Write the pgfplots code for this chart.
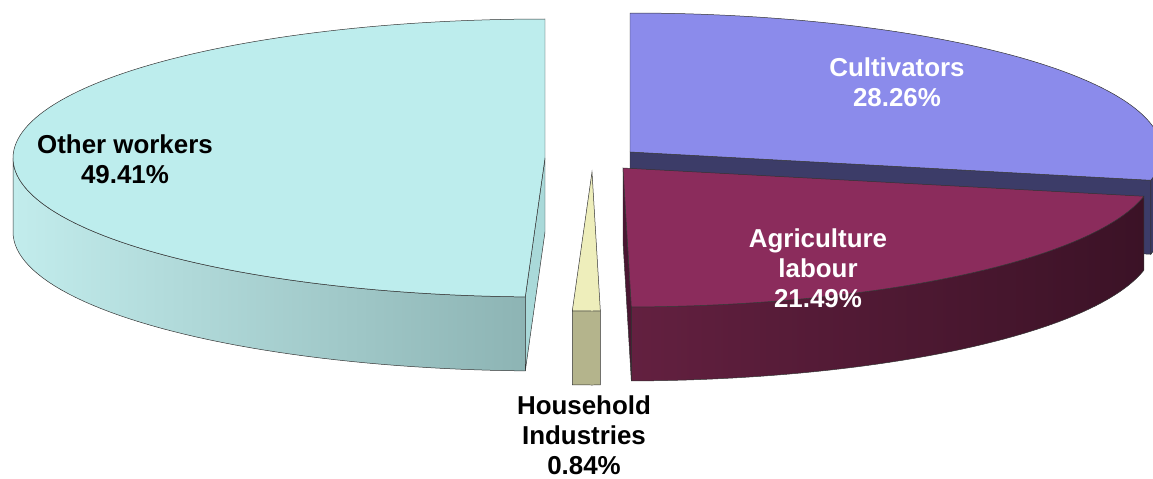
\documentclass[border=0pt]{standalone}
\usepackage{pgfplots}
\pgfplotsset{compat=1.18}
\usepackage{pgfplotstable}
\usepackage{fontspec}
\setmainfont{Liberation Sans}

\pgfplotstableread{
label value
Cultivators 28.26
Agriculture 21.49
Household 0.84
Other 49.41
}\piedata

\pgfplotstablegetelem{0}{value}\of\piedata \let\vCult\pgfplotsretval
\pgfplotstablegetelem{1}{value}\of\piedata \let\vAgri\pgfplotsretval
\pgfplotstablegetelem{2}{value}\of\piedata \let\vHouse\pgfplotsretval
\pgfplotstablegetelem{3}{value}\of\piedata \let\vOther\pgfplotsretval

\pgfmathsetmacro\aA{90}
\pgfmathsetmacro\aB{\aA-3.6*\vCult}
\pgfmathsetmacro\aC{\aB-3.6*\vAgri}
\pgfmathsetmacro\aD{\aC-3.6*\vHouse}
\pgfmathsetmacro\aE{\aD-3.6*\vOther}
\pgfmathsetmacro\aDp{\aD+360}

\def\ra{532}
\def\rb{139}
\def\dep{74}

\definecolor{edgec}{HTML}{333333}
\definecolor{othertop}{HTML}{BDEDED}
\definecolor{otherL}{HTML}{C2ECEC}
\definecolor{otherR}{HTML}{8DB4B4}
\definecolor{othercut}{HTML}{A9D9D9}
\definecolor{culttop}{HTML}{8B8BEB}
\definecolor{cultside}{HTML}{3C3C68}
\definecolor{agritop}{HTML}{8B2C5C}
\definecolor{agriL}{HTML}{632040}
\definecolor{agriR}{HTML}{3B1226}
\definecolor{agricut}{HTML}{4A1632}
\definecolor{housetop}{HTML}{EEEEBB}
\definecolor{houseside}{HTML}{B4B48C}

\tikzset{lbl/.style={font=\fontsize{26}{30}\selectfont\bfseries, align=center, inner sep=0pt}}

% top face: cx, cy, tlow, thigh, style
\newcommand\topface[5]{%
  \addplot[#5, draw=edgec, line width=0.5pt, domain=#3:#4, samples=120]
    ({#1+\ra*cos(x)},{#2-\rb*sin(x)}) -- (axis cs:#1,#2) -- cycle;}
% outer side: cx, cy, t1, t2, style
\newcommand\sideface[5]{%
  \addplot[#5, draw=edgec, line width=0.5pt, samples at={0,1,...,101}]
    ({#1+\ra*cos((#3)+(min(x,50)-max(x-51,0))/50*((#4)-(#3)))},
     {#2-\rb*sin((#3)+(min(x,50)-max(x-51,0))/50*((#4)-(#3)))+\dep*min(1,max(0,x-50))}) -- cycle;}
% radial cut face: cx, cy, t, style
\newcommand\cutface[4]{%
  \addplot[#4, draw=edgec, line width=0.5pt, samples at={0,1,2,3}]
    ({#1+\ra*cos(#3)*min(1,x)*min(1,3-x)},
     {#2-\rb*sin(#3)*min(1,x)*min(1,3-x)+\dep*min(1,max(0,x-1))}) -- cycle;}

\begin{document}
\begin{tikzpicture}
\useasboundingbox (0,0) rectangle (1153bp,479bp);
\begin{axis}[
  at={(0,0)}, anchor=south west,
  width=1153bp, height=479bp, scale only axis,
  xmin=0, xmax=1153, ymin=0, ymax=479, y dir=reverse,
  hide axis, clip=false, no markers,
]
% Other workers
\sideface{545}{158}{180}{\aDp}{left color=otherL, right color=otherR}
\cutface{545}{158}{\aD}{fill=othercut}
\topface{545}{158}{90}{\aDp}{fill=othertop}
% Cultivators
\cutface{630}{152}{\aB}{fill=cultside}
\sideface{630}{152}{\aB}{0}{fill=cultside}
\topface{630}{152}{\aB}{\aA}{fill=culttop}
% Agriculture labour
\sideface{623}{168}{\aC}{\aB}{left color=agriL, right color=agriR}
\cutface{623}{168}{\aC}{fill=agricut}
\topface{623}{168}{\aC}{\aB}{fill=agritop}
% Household industries
\sideface{592}{172}{\aD}{\aC}{fill=houseside}
\topface{592}{172}{\aD}{\aC}{fill=housetop}

\node[lbl, text=black] at (axis cs:125,159) {Other workers\\49.41\%};
\node[lbl, text=white] at (axis cs:897,82) {Cultivators\\28.26\%};
\node[lbl, text=white] at (axis cs:818,268) {Agriculture\\labour\\21.49\%};
\node[lbl, text=black] at (axis cs:584,435) {Household\\Industries\\0.84\%};
\end{axis}
\end{tikzpicture}
\end{document}
